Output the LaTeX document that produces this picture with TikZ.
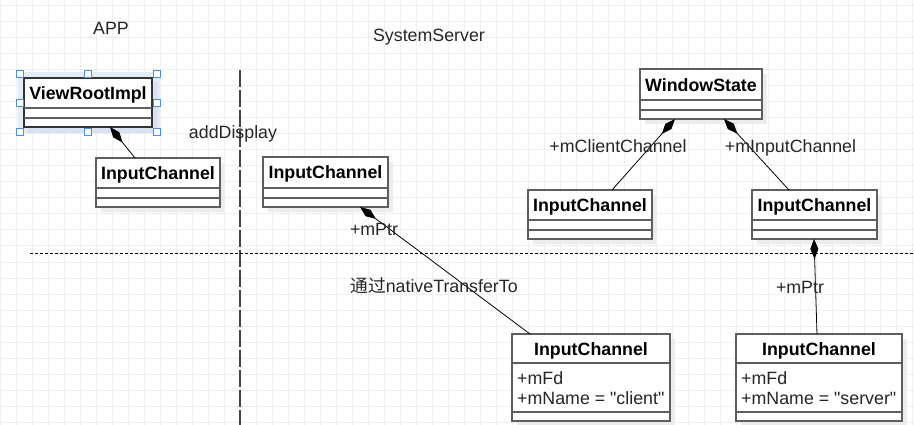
\documentclass[tikz,border=0pt]{standalone}
\usepackage{fontspec}
\setmainfont{Liberation Sans}[Ligatures=TeXOff]
\newfontfamily\cjk{Noto Sans CJK SC}
\usetikzlibrary{arrows.meta,calc}
\definecolor{gridc}{HTML}{EFEFEF}
\definecolor{boxc}{HTML}{5E5E5E}
\definecolor{shadc}{HTML}{ECECEC}
\definecolor{selfill}{HTML}{E4ECF8}
\definecolor{selshad}{HTML}{D8E2F1}
\definecolor{handc}{HTML}{4A90E2}
\definecolor{vdash}{HTML}{444444}
\tikzset{
  txt/.style={font=\fontsize{17.8}{20}\selectfont, inner sep=0pt, text=black!85},
  ttl/.style={font=\fontsize{17.8}{20}\selectfont\bfseries, inner sep=0pt, anchor=base},
  lbl/.style={txt, anchor=base},
  cls/.style={draw=boxc, line width=1.5pt, fill=white, inner sep=0pt, outer sep=0pt, anchor=north west},
  sep/.style={draw=boxc, line width=1.5pt},
  conn/.style={draw=black, line width=0.8pt},
  comp/.style={conn, {Diamond[length=20pt,width=8pt]}-},
  handle/.style={draw=handc, fill=white, line width=0.8pt, minimum size=7pt, inner sep=0pt},
}
\begin{document}
\begin{tikzpicture}[x=1pt,y=-1pt]
\useasboundingbox (0,0) rectangle (914,425);
% background grid
\foreach \gx in {0,16,...,912} {\draw[gridc, line width=1pt] (\gx,0) -- (\gx,425);}
\foreach \gy in {6,22,...,422} {\draw[gridc, line width=1pt] (0,\gy) -- (914,\gy);}

% selection highlight around ViewRootImpl
\fill[selfill] (18,72) rectangle (160,134);
\fill[selshad] (28,82) rectangle (158,133);

% shadows
\foreach \ax/\ay/\bx/\by in {96/158/220/207, 263/157/388/207, 640/69/762/119, 528/190/652/239, 752/190/877/239, 512/334/670/421, 736/334/902/421}
  {\fill[shadc] (\ax+5,\ay+5) rectangle (\bx+5,\by+5);}

% class boxes
\node[cls, draw=black!80, minimum width=128pt, minimum height=49pt] (vri) at (24,78) {};
\node[cls, minimum width=124pt, minimum height=49pt] (ic1) at (96,158) {};
\node[cls, minimum width=125pt, minimum height=50pt] (ic2) at (263,157) {};
\node[cls, minimum width=122pt, minimum height=50pt] (ws) at (640,69) {};
\node[cls, minimum width=124pt, minimum height=49pt] (ic3) at (528,190) {};
\node[cls, minimum width=125pt, minimum height=49pt] (ic4) at (752,190) {};
\node[cls, minimum width=158pt, minimum height=87pt] (icc) at (512,334) {};
\node[cls, minimum width=166pt, minimum height=87pt] (ics) at (736,334) {};

% compartment lines
\foreach \n/\a/\b in {vri/30/40, ic1/30/40, ic2/31/41, ws/31/41, ic3/30/40, ic4/30/40, icc/29/78, ics/29/78}
  {\draw[sep] ($(\n.north west)+(0,\a)$) -- ($(\n.north east)+(0,\a)$);
   \draw[sep] ($(\n.north west)+(0,\b)$) -- ($(\n.north east)+(0,\b)$);}

% titles
\node[ttl] (vrit) at ($(vri.north)+(0,22)$) {ViewRootImpl};
\node[ttl] (ic1t) at ($(ic1.north)+(0,22)$) {InputChannel};
\node[ttl] (ic2t) at ($(ic2.north)+(0,22)$) {InputChannel};
\node[ttl] (wst) at ($(ws.north)+(0,23)$) {WindowState};
\node[ttl] (ic3t) at ($(ic3.north)+(0,22)$) {InputChannel};
\node[ttl] (ic4t) at ($(ic4.north)+(0,22)$) {InputChannel};
\node[ttl] (icct) at ($(icc.north)+(0,21)$) {InputChannel};
\node[ttl] (icst) at ($(ics.north)+(0,21)$) {InputChannel};

% attributes
\node[lbl, anchor=base west] (icca1) at ($(icc.north west)+(5,50)$) {+mFd};
\node[lbl, anchor=base west] (icca2) at ($(icc.north west)+(5,70)$) {+mName = "client"};
\node[lbl, anchor=base west] (icsa1) at ($(ics.north west)+(5,50)$) {+mFd};
\node[lbl, anchor=base west] (icsa2) at ($(ics.north west)+(5,70)$) {+mName = "server"};

% selection handles
\foreach \hx/\hy [count=\i] in {20/73.5, 88/73.5, 157/73.5, 20/103, 157/103, 20/131.5, 88/131.5, 157/131.5}
  {\node[handle] (h\i) at (\hx,\hy) {};}

% separators
\draw[vdash, line width=1.5pt, dash pattern=on 17pt off 3pt] (240,70) coordinate (vtop) -- (240,425) coordinate (vbot);
\draw[black, line width=1pt, dash pattern=on 3pt off 2pt] (30,254) coordinate (hl) -- (914,254) coordinate (hr);

% connectors
\draw[comp] ($(vri.south west)+(86,0)$) -- ($(ic1.north west)+(39,0)$);
\draw[comp] ($(ic2.south west)+(97,0)$) -- ($(icc.north west)+(18,0)$);
\draw[comp] ($(ws.south west)+(35,0)$) -- ($(ic3.north west)+(84,0)$);
\draw[comp] ($(ws.south west)+(84,0)$) -- ($(ic4.north west)+(37,0)$);
\draw[comp] ($(ic4.south west)+(62,0)$) -- ($(ics.north west)+(81,0)$);

% labels
\node[lbl] (app) at (111,35) {APP};
\node[lbl] (ss) at (429,42) {SystemServer};
\node[lbl] (ad) at (233,139) {addDisplay};
\node[lbl] (mptr1) at (374,236) {+mPtr};
\node[lbl, anchor=base west] (ntt) at (350,292) {{\cjk 通过}nativeTransferTo};
\node[lbl] (mcc) at (618,153) {+mClientChannel};
\node[lbl] (mic) at (790.5,153) {+mInputChannel};
\node[lbl] (mptr2) at (800,293) {+mPtr};
\end{tikzpicture}
\end{document}
